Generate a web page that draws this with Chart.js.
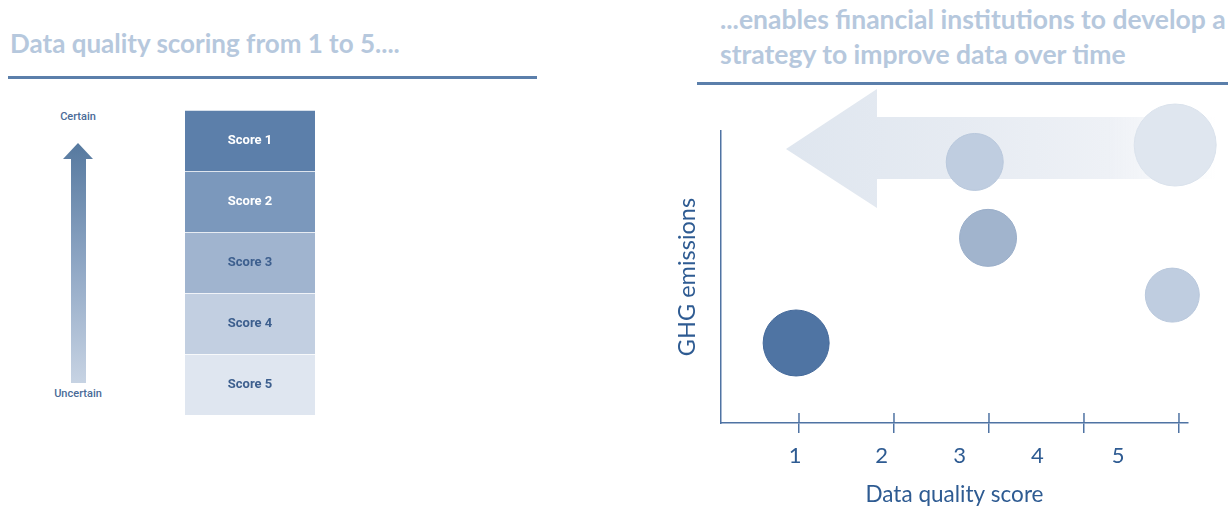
<!DOCTYPE html>
<html>
<head>
<meta charset="utf-8">
<script src="https://cdn.jsdelivr.net/npm/chart.js@4/dist/chart.umd.min.js"></script>
<style>
  html, body { margin: 0; padding: 0; background: #fff; }
  #page { position: relative; width: 1228px; height: 508px; overflow: hidden; font-family: Lato, "Open Sans", sans-serif; }
  .title { position: absolute; color: #b6c8dd; font-weight: bold; font-size: 26px; white-space: nowrap; }
  .rule { position: absolute; height: 3px; background: #5b7fab; }
  .small { position: absolute; width: 80px; text-align: center; font-family: Roboto, sans-serif; font-weight: 500; font-size: 11px; color: #4a6b98; }
  #upArrow { position: absolute; left: 63px; top: 143px; width: 31px; height: 240px;
    background: linear-gradient(to bottom, #56799f, #8ea6c4 50%, #c7d3e3);
    clip-path: polygon(15px 0, 30px 16px, 23px 16px, 23px 240px, 8px 240px, 8px 16px, 0 16px); }
  #bigArrow { position: absolute; left: 786px; top: 89px; width: 430px; height: 119px;
    background: linear-gradient(to right, #dfe6ef, #e6ebf2 40%, #eef1f6 75%, rgba(255,255,255,0));
    clip-path: polygon(0 60px, 91px 0, 91px 28px, 100% 28px, 100% 90px, 91px 90px, 91px 100%);
    filter: blur(0.6px); }
  #scoreWrap { position: absolute; left: 185px; top: 110px; width: 130px; height: 305px; }
  #bubbleWrap { position: absolute; left: 650px; top: 86px; width: 578px; height: 422px; }
</style>
</head>
<body>
<div id="page">
  <div class="title" style="left:10px; top:30px; line-height:26px;">Data quality scoring from 1 to 5....</div>
  <div class="rule" style="left:8px; top:76px; width:529px;"></div>

  <div class="title" style="left:720px; top:2px; line-height:35px; font-size:26.5px;">...enables financial institutions to develop a<br>strategy to improve data over time</div>
  <div class="rule" style="left:697px; top:82px; width:531px;"></div>

  <div class="small" style="left:38px; top:110px;">Certain</div>
  <div id="upArrow"></div>
  <div class="small" style="left:38px; top:387px;">Uncertain</div>

  <div id="scoreWrap"><canvas id="chart-scores"></canvas></div>

  <div id="bigArrow"></div>
  <div id="bubbleWrap"><canvas id="chart-bubbles"></canvas></div>
</div>

<script>
// Left panel: score boxes
const scoreLabels = ["Score 1", "Score 2", "Score 3", "Score 4", "Score 5"];
const scoreColors = ["#5c7faa", "#7b98bc", "#a0b4cf", "#c2cfe1", "#dfe6f0"];
const scoreTextColors = ["#ffffff", "#ffffff", "#3d5f8e", "#3d5f8e", "#3d5f8e"];

// Right panel: bubbles (x = data quality score, y = GHG emissions, r = size)
const bubbleX = [0.97, 2.99, 2.85, 4.93, 4.96];
const bubbleY = [2.74, 6.34, 8.94, 4.38, 9.52];
const bubbleR = [33, 28.5, 28.5, 27, 41];
const bubbleColors = ["#4f74a3", "#a1b4cd", "#bfcde0", "#bfcde0", "#dfe6ef"];
const bubbleBorders = ["#44699a", "#9aaec9", "#b9c8dc", "#b9c8dc", "#dae2ec"];

// Axis ticks and labels
const xTicks = [1, 2, 3, 4, 5];
const xLabelPos = [0.96, 1.87, 2.69, 3.51, 4.36];
const xLabels = ["1", "2", "3", "4", "5"];

const axisBlue = "#4f73a3";
const textBlue = "#2e5b92";

// Text in the middle of each stacked box
const boxText = {
  id: "boxText",
  afterDatasetsDraw(chart) {
    const ctx = chart.ctx;
    ctx.save();
    ctx.font = "bold 13px Roboto, sans-serif";
    ctx.textAlign = "center";
    ctx.textBaseline = "middle";
    chart.data.datasets.forEach((ds, i) => {
      const bar = chart.getDatasetMeta(i).data[0];
      ctx.fillStyle = scoreTextColors[i];
      ctx.fillText(ds.label, bar.x, (bar.y + bar.base) / 2);
    });
    ctx.restore();
  }
};

new Chart(document.getElementById("chart-scores"), {
  type: "bar",
  data: {
    labels: ["score"],
    datasets: scoreLabels.map((l, i) => ({
      label: l, data: [1], backgroundColor: scoreColors[i],
      borderColor: "rgba(255,255,255,0.35)", borderWidth: { top: 1 }, borderSkipped: false,
      barPercentage: 1, categoryPercentage: 1,
    })),
  },
  options: {
    responsive: true, maintainAspectRatio: false, animation: false, events: [],
    layout: { padding: 0, autoPadding: false },
    plugins: { legend: { display: false }, tooltip: { enabled: false } },
    scales: {
      x: { stacked: true, display: false },
      y: { stacked: true, display: false, reverse: true, min: 0, max: 5 },
    },
  },
  plugins: [boxText],
});

// Tick marks that cross the x axis (upper half)
const crossTicks = {
  id: "crossTicks",
  afterDraw(chart) {
    const sx = chart.scales.x;
    const ctx = chart.ctx;
    ctx.save();
    ctx.strokeStyle = axisBlue;
    ctx.lineWidth = 1.5;
    sx.ticks.forEach(t => {
      const px = sx.getPixelForValue(t.value);
      ctx.beginPath();
      ctx.moveTo(px, sx.top);
      ctx.lineTo(px, sx.top - 10);
      ctx.stroke();
    });
    ctx.restore();
  }
};

new Chart(document.getElementById("chart-bubbles"), {
  type: "bubble",
  data: {
    datasets: [{
      data: bubbleX.map((x, i) => ({ x, y: bubbleY[i], r: bubbleR[i] })),
      backgroundColor: bubbleColors,
      borderColor: bubbleBorders,
      borderWidth: 1,
      clip: false,
    }],
  },
  options: {
    responsive: true, maintainAspectRatio: false, animation: false, events: [],
    layout: { padding: { top: 45, right: 40, left: 0, bottom: 0 }, autoPadding: false },
    plugins: { legend: { display: false }, tooltip: { enabled: false } },
    scales: {
      x: {
        type: "linear", position: "bottom", weight: 0, min: 0.179, max: 5.095,
        afterBuildTicks: s => { s.ticks = xTicks.map(v => ({ value: v })); },
        afterFit: s => { s.height = 20; },
        ticks: { display: false },
        grid: { display: true, drawOnChartArea: false, drawTicks: true, tickLength: 10, color: axisBlue, lineWidth: 1.5 },
        border: { display: true, color: axisBlue, width: 1.5 },
      },
      x2: {
        type: "linear", position: "bottom", weight: 1, min: 0.179, max: 5.095,
        afterBuildTicks: s => { s.ticks = xLabelPos.map(v => ({ value: v })); },
        afterFit: s => { s.height = 65; },
        ticks: { padding: -8, color: textBlue, font: { family: "Lato", size: 22 }, callback: (v, i) => xLabels[i] },
        grid: { display: false },
        border: { display: false },
        title: { display: true, text: "Data quality score", color: textBlue, font: { family: "Lato", size: 22.5 }, padding: { top: 0, bottom: 0 } },
      },
      y: {
        min: 0, max: 10,
        afterFit: s => { s.width = 71; },
        ticks: { display: false },
        grid: { display: false },
        border: { display: true, color: axisBlue, width: 1.5 },
        title: { display: true, text: "GHG emissions", color: textBlue, font: { family: "Lato", size: 23.5 }, padding: { top: 23, bottom: 0 } },
      },
    },
  },
  plugins: [crossTicks],
});
</script>
</body>
</html>
